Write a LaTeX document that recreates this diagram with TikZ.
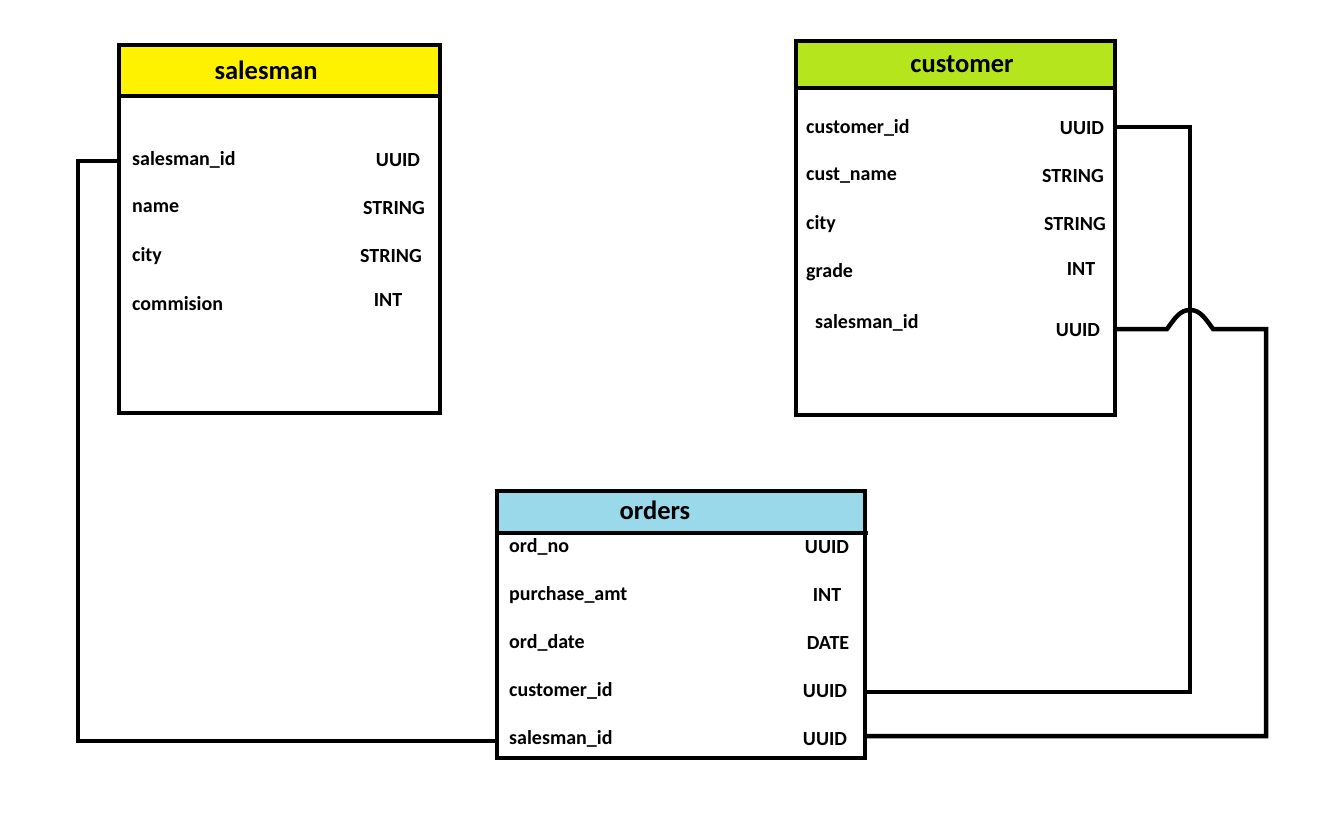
\documentclass[tikz,border=0pt]{standalone}
\usepackage{fontspec}
\setmainfont{Carlito}
\definecolor{hdryellow}{HTML}{FFF200}
\definecolor{hdrgreen}{HTML}{B5E61D}
\definecolor{hdrblue}{HTML}{99D9EA}
\tikzset{
  tbl/.style={draw=black, line width=4.5pt, fill=white},
  hdr/.style={draw=black, line width=4.5pt},
  hdrtext/.style={font=\fontsize{26.5}{28}\selectfont\bfseries, inner sep=0pt},
  fld/.style={font=\fontsize{20}{22}\selectfont\bfseries, inner sep=0pt, anchor=west},
  typ/.style={font=\fontsize{20}{22}\selectfont\bfseries, inner sep=0pt},
  link/.style={draw=black, line width=4.5pt}
}
\begin{document}
\begin{tikzpicture}[x=1pt,y=-1pt]
\useasboundingbox (0,0) rectangle (1341,816);
% salesman
\draw[tbl] (119,45) rectangle (440,413);
\draw[hdr, fill=hdryellow] (119,45) rectangle (440,96);
\draw[line width=4.5pt] (440,96) -- (442,96);
\node[hdrtext] (sh) at (266,70) {salesman};
\node[fld] (s1) at (132,160) {salesman\_id};
\node[fld] (s2) at (132,208) {name};
\node[fld] (s3) at (132,256) {city};
\node[fld] (s4) at (132,304) {commision};
\node[typ] (st1) at (398,160) {UUID};
\node[typ] (st2) at (394,208) {STRING};
\node[typ] (st3) at (391,256) {STRING};
\node[typ] (st4) at (388,300) {INT};
% customer
\draw[tbl] (796,41) rectangle (1115,415);
\draw[hdr, fill=hdrgreen] (796,41) rectangle (1115,88);
\draw[line width=4.5pt] (1115,88) -- (1117,88);
\node[hdrtext] (ch) at (962,64) {customer};
\node[fld] (c1) at (806,128) {customer\_id};
\node[fld] (c2) at (806,176) {cust\_name};
\node[fld] (c3) at (806,224) {city};
\node[fld] (c4) at (806,272) {grade};
\node[fld] (c5) at (815,323) {salesman\_id};
\node[typ] (ct1) at (1082,128) {UUID};
\node[typ] (ct2) at (1073,176) {STRING};
\node[typ] (ct3) at (1075,224) {STRING};
\node[typ] (ct4) at (1081,269) {INT};
\node[typ] (ct5) at (1078,330) {UUID};
% orders
\draw[tbl] (497,491) rectangle (865,758);
\draw[hdr, fill=hdrblue] (497,491) rectangle (865,533);
\draw[line width=4.5pt] (865,533) -- (868,533);
\node[hdrtext] (oh) at (655,510) {orders};
\node[fld] (o1) at (509,547) {ord\_no};
\node[fld] (o2) at (509,595) {purchase\_amt};
\node[fld] (o3) at (509,643) {ord\_date};
\node[fld] (o4) at (509,691) {customer\_id};
\node[fld] (o5) at (509,739) {salesman\_id};
\node[typ] (ot1) at (827,547) {UUID};
\node[typ] (ot2) at (827,595) {INT};
\node[typ] (ot3) at (828,643) {DATE};
\node[typ] (ot4) at (825,691) {UUID};
\node[typ] (ot5) at (825,739) {UUID};
% connector endpoints
\coordinate (sPK) at (119,161);
\coordinate (oSM) at (497,741);
\coordinate (cPK) at (1115,127);
\coordinate (oCU) at (865,692);
\coordinate (cSM) at (1115,329);
\coordinate (oSM2) at (865,736);
% links
\draw[link] (sPK) -- (78,161) -- (78,741) -- (oSM);
\draw[link] (cPK) -- (1190,127) -- (1190,692) -- (oCU);
\draw[link] (cSM) -- (1167,329) .. controls (1175,318) and (1180,310) .. (1190,310)
  .. controls (1200,310) and (1205,318) .. (1213,329) -- (1266,329) -- (1266,736) -- (oSM2);
\end{tikzpicture}
\end{document}
